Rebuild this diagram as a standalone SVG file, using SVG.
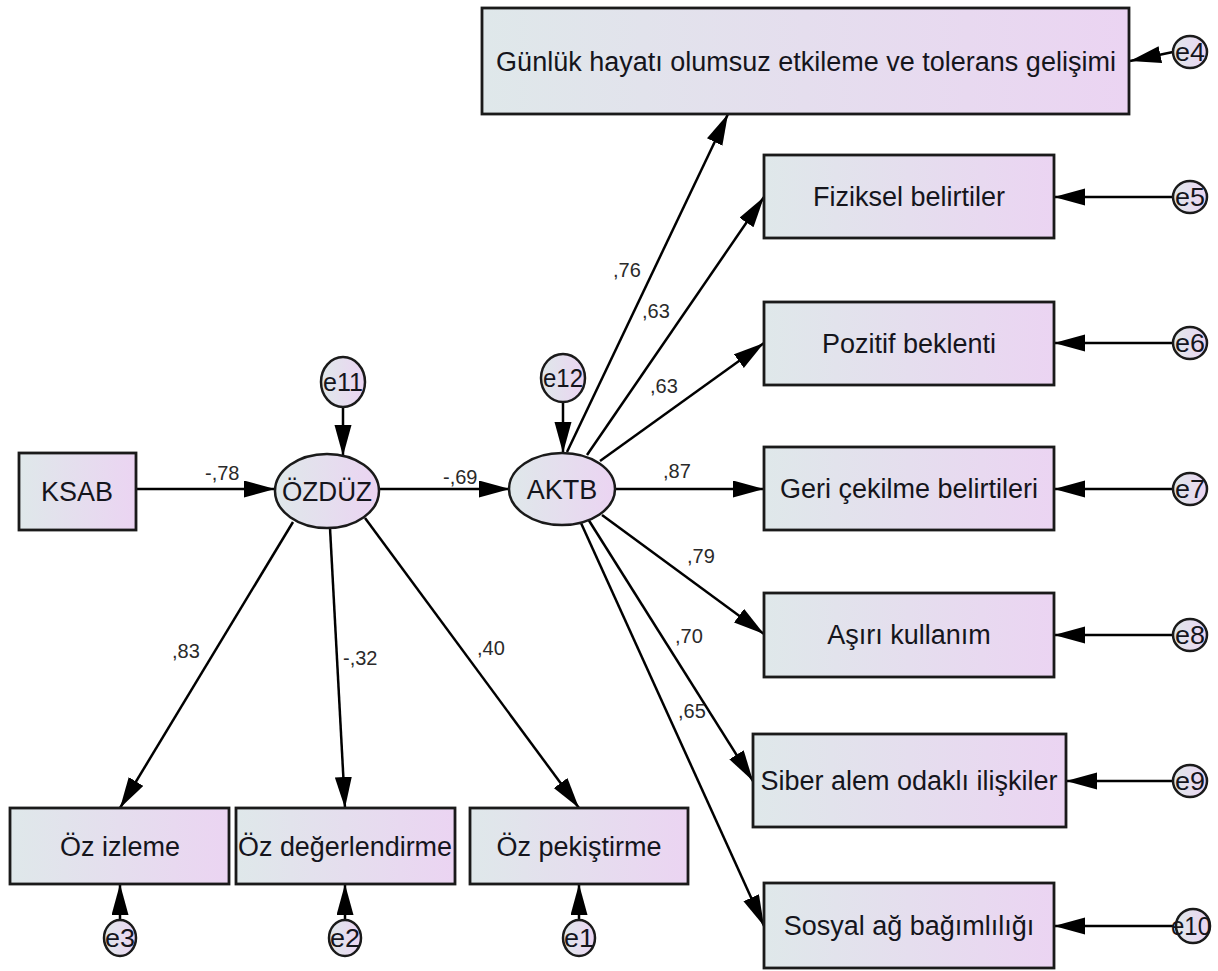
<svg xmlns="http://www.w3.org/2000/svg" width="1218" height="971" viewBox="0 0 1218 971">
<defs>
<linearGradient id="g" x1="0" y1="0" x2="1" y2="0">
<stop offset="0" stop-color="#dfe8ea"/>
<stop offset="1" stop-color="#ebd4f2"/>
</linearGradient>
<marker id="ah" markerUnits="userSpaceOnUse" markerWidth="32" markerHeight="18" refX="31" refY="8.5" orient="auto">
<path d="M0,0 L31,8.5 L0,17 z" fill="#000"/>
</marker>
</defs>
<style>
.box{fill:url(#g);stroke:#1a1a1a;stroke-width:2.8}
.ell{fill:url(#g);stroke:#1a1a1a;stroke-width:2.5}
.t{font-family:"Liberation Sans",Arial,sans-serif;font-size:27px;fill:#15151c;text-anchor:middle}
.et{font-family:"Liberation Sans",Arial,sans-serif;font-size:26px;fill:#15151c;text-anchor:middle}
.lb{font-family:"Liberation Sans",Arial,sans-serif;font-size:20px;fill:#2a2a2a}
.c{stroke:#000;stroke-width:2.5;fill:none;marker-end:url(#ah)}
</style>
<rect width="1218" height="971" fill="#fff"/>

<g id="connectors">
<line class="c" x1="136" y1="489" x2="275" y2="489"/>
<line class="c" x1="380" y1="489" x2="510" y2="489"/>
<line class="c" x1="343" y1="407" x2="343" y2="456"/>
<line class="c" x1="563" y1="402" x2="563" y2="453"/>
<line class="c" x1="293" y1="522" x2="120" y2="808"/>
<line class="c" x1="330" y1="528" x2="345" y2="808"/>
<line class="c" x1="365" y1="518" x2="579" y2="808"/>
<line class="c" x1="120" y1="920" x2="120" y2="884"/>
<line class="c" x1="345" y1="920" x2="345" y2="884"/>
<line class="c" x1="579" y1="920" x2="579" y2="884"/>
<line class="c" x1="567" y1="452" x2="728" y2="114"/>
<line class="c" x1="587" y1="455" x2="764" y2="197"/>
<line class="c" x1="600" y1="461" x2="764" y2="343"/>
<line class="c" x1="615" y1="489" x2="764" y2="489"/>
<line class="c" x1="602" y1="515" x2="764" y2="634"/>
<line class="c" x1="588" y1="519" x2="753" y2="781"/>
<line class="c" x1="581" y1="523" x2="764" y2="926"/>
<line class="c" x1="1173" y1="52" x2="1130" y2="61"/>
<line class="c" x1="1173" y1="197" x2="1054" y2="197"/>
<line class="c" x1="1173" y1="343" x2="1054" y2="343"/>
<line class="c" x1="1173" y1="489" x2="1054" y2="489"/>
<line class="c" x1="1173" y1="635" x2="1054" y2="635"/>
<line class="c" x1="1173" y1="781" x2="1066" y2="781"/>
<line class="c" x1="1174" y1="926" x2="1054" y2="926"/>
<text class="lb" x="205" y="480">-,78</text>
<text class="lb" x="443" y="484">-,69</text>
<text class="lb" x="172" y="658">,83</text>
<text class="lb" x="343" y="665">-,32</text>
<text class="lb" x="477" y="655">,40</text>
<text class="lb" x="613" y="277">,76</text>
<text class="lb" x="642" y="318">,63</text>
<text class="lb" x="650" y="393">,63</text>
<text class="lb" x="663" y="478">,87</text>
<text class="lb" x="687" y="563">,79</text>
<text class="lb" x="675" y="643">,70</text>
<text class="lb" x="678" y="718">,65</text>
</g>

<g id="KSAB"><rect class="box" x="19" y="453" width="117" height="77"/><text class="t" x="77" y="501">KSAB</text></g>
<g id="OZDUZ"><ellipse class="ell" cx="327" cy="491" rx="52" ry="37"/><text class="t" x="327" y="501" textLength="90" lengthAdjust="spacingAndGlyphs">ÖZDÜZ</text></g>
<g id="AKTB"><ellipse class="ell" cx="562" cy="489" rx="53" ry="36"/><text class="t" x="562" y="499">AKTB</text></g>
<g id="e11"><ellipse class="ell" cx="343" cy="382" rx="22" ry="25"/><text class="et" x="343" y="391" textLength="40" lengthAdjust="spacingAndGlyphs">e11</text></g>
<g id="e12"><ellipse class="ell" cx="563" cy="378" rx="22" ry="24"/><text class="et" x="563" y="387" textLength="40" lengthAdjust="spacingAndGlyphs">e12</text></g>

<g id="OzIzleme"><rect class="box" x="10" y="808" width="219" height="76"/><text class="t" x="120" y="856">Öz izleme</text></g>
<g id="OzDegerlendirme"><rect class="box" x="236" y="808" width="219" height="76"/><text class="t" x="345" y="856" textLength="214" lengthAdjust="spacingAndGlyphs">Öz değerlendirme</text></g>
<g id="OzPekistirme"><rect class="box" x="470" y="808" width="218" height="76"/><text class="t" x="579" y="856">Öz pekiştirme</text></g>
<g id="e3"><ellipse class="ell" cx="120" cy="938" rx="16" ry="18"/><text class="et" x="120" y="947" textLength="30" lengthAdjust="spacingAndGlyphs">e3</text></g>
<g id="e2"><ellipse class="ell" cx="345" cy="938" rx="16" ry="18"/><text class="et" x="345" y="947" textLength="30" lengthAdjust="spacingAndGlyphs">e2</text></g>
<g id="e1"><ellipse class="ell" cx="579" cy="938" rx="16" ry="18"/><text class="et" x="579" y="947" textLength="30" lengthAdjust="spacingAndGlyphs">e1</text></g>

<g id="Gunluk"><rect class="box" x="482" y="8" width="647" height="106"/><text class="t" x="806" y="71">Günlük hayatı olumsuz etkileme ve tolerans gelişimi</text></g>
<g id="Fiziksel"><rect class="box" x="764" y="155" width="290" height="83"/><text class="t" x="909" y="206">Fiziksel belirtiler</text></g>
<g id="Pozitif"><rect class="box" x="764" y="302" width="290" height="83"/><text class="t" x="909" y="353">Pozitif beklenti</text></g>
<g id="Geri"><rect class="box" x="764" y="447" width="290" height="83"/><text class="t" x="909" y="498">Geri çekilme belirtileri</text></g>
<g id="Asiri"><rect class="box" x="764" y="593" width="290" height="84"/><text class="t" x="909" y="644">Aşırı kullanım</text></g>
<g id="Siber"><rect class="box" x="753" y="734" width="313" height="93"/><text class="t" x="909" y="790">Siber alem odaklı ilişkiler</text></g>
<g id="Sosyal"><rect class="box" x="764" y="883" width="290" height="85"/><text class="t" x="909" y="935">Sosyal ağ bağımlılığı</text></g>

<g id="e4"><ellipse class="ell" cx="1190" cy="52" rx="17" ry="16"/><text class="et" x="1190" y="61" textLength="30" lengthAdjust="spacingAndGlyphs">e4</text></g>
<g id="e5"><ellipse class="ell" cx="1190" cy="197" rx="17" ry="16"/><text class="et" x="1190" y="206" textLength="30" lengthAdjust="spacingAndGlyphs">e5</text></g>
<g id="e6"><ellipse class="ell" cx="1190" cy="343" rx="17" ry="16"/><text class="et" x="1190" y="352" textLength="30" lengthAdjust="spacingAndGlyphs">e6</text></g>
<g id="e7"><ellipse class="ell" cx="1190" cy="489" rx="17" ry="16"/><text class="et" x="1190" y="498" textLength="30" lengthAdjust="spacingAndGlyphs">e7</text></g>
<g id="e8"><ellipse class="ell" cx="1190" cy="635" rx="17" ry="16"/><text class="et" x="1190" y="644" textLength="30" lengthAdjust="spacingAndGlyphs">e8</text></g>
<g id="e9"><ellipse class="ell" cx="1190" cy="781" rx="17" ry="16"/><text class="et" x="1190" y="790" textLength="30" lengthAdjust="spacingAndGlyphs">e9</text></g>
<g id="e10"><ellipse class="ell" cx="1193" cy="926" rx="17" ry="17"/><text class="et" x="1191" y="935" textLength="40" lengthAdjust="spacingAndGlyphs">e10</text></g>
</svg>
